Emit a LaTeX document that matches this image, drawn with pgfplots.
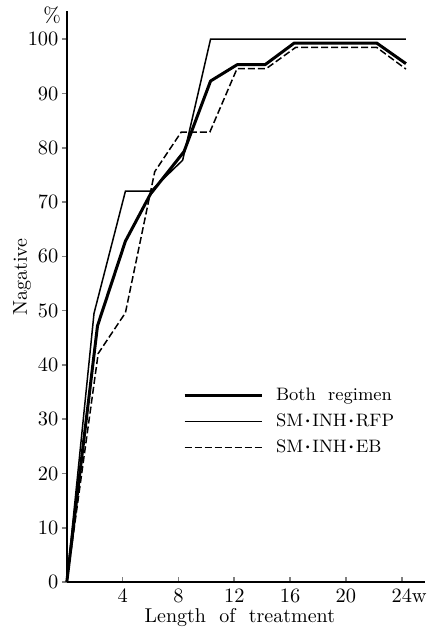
\documentclass[border=0pt]{standalone}
\usepackage{fontspec}
\usepackage{pgfplots}
\pgfplotsset{compat=1.18}

\newcommand{\dt}{$\vcenter{\hbox{\fontsize{5}{5}\selectfont\kern-0.3pt\textbullet\kern-0.3pt}}$}

% weeks, percent negative
\pgfplotstableread{
w     y
0     0
2.2   47.2
4.2   62.8
6.0   71.5
8.4   79.3
10.3  92.3
12.2  95.3
14.2  95.3
16.3  99.3
22.2  99.3
24.3  95.5
}\both
\pgfplotstableread{
w     y
0     0
1.95  49.5
4.2   72
6.0   72
8.3   77.7
10.3  100
24.3  100
}\rfp
\pgfplotstableread{
w     y
0     0
2.25  42.1
4.2   49.6
6.3   75.6
8.2   82.9
10.25 82.9
12.2  94.6
14.3  94.6
16.4  98.5
22.2  98.5
24.3  94.5
}\eb

\begin{document}
\begin{tikzpicture}
\useasboundingbox (-33.4pt,-23pt) rectangle (182.6pt,291pt);
\begin{axis}[
  at={(0,0)}, anchor=south west, scale only axis,
  width=179pt, height=285.5pt,
  xmin=0, xmax=25.65, ymin=0, ymax=105.2,
  axis lines=left, axis line style={-, line width=0.9pt},
  xtick={4,8,12,16,20,24}, xticklabels={4,8,12,16,20,24\rlap{w}},
  ytick={0,10,...,100},
  x tick style={line width=0.8pt}, y tick style={line width=0.8pt},
  xtick align=inside, ytick align=outside, major tick length=2.5pt,
  /pgf/number format/assume math mode=true,
  tick label style={font=\fontsize{10.2}{12}\selectfont\addfontfeatures{FakeStretch=0.85}},
  yticklabel style={inner sep=1.5pt},
  xlabel={Length\ \ of\ \ treatment}, ylabel={Nagative},
  label style={font=\fontsize{10.5}{12}\selectfont},
  every axis x label/.style={at={(axis cs:12.4,-6.5)}, anchor=center},
  every axis y label/.style={at={(axis cs:-3.2,56.2)}, anchor=center, rotate=90},
  legend style={at={(axis cs:8.3,36.6)}, anchor=north west, draw=none, fill=none,
    inner sep=0pt, row sep=1.2pt, font=\fontsize{9}{11}\selectfont},
  legend cell align=left,
  legend image code/.code={\draw[#1] (0pt,0pt) -- (38.5pt,0pt); \path (43pt,0pt);},
  clip=false,
]
\addplot[black, line width=1.5pt, line join=round] table {\both};
\addlegendentry{Both\ \ regimen}
\addplot[black, line width=0.75pt] table {\rfp};
\addlegendentry{SM\dt INH\dt RFP}
\addplot[black, line width=0.75pt, dash pattern=on 3.5pt off 1.5pt] table {\eb};
\addlegendentry{SM\dt INH\dt EB}
\node[font=\fontsize{10.5}{12}\selectfont] at (axis cs:-1.06,104.4) {\%};
\end{axis}
\end{tikzpicture}
\end{document}
